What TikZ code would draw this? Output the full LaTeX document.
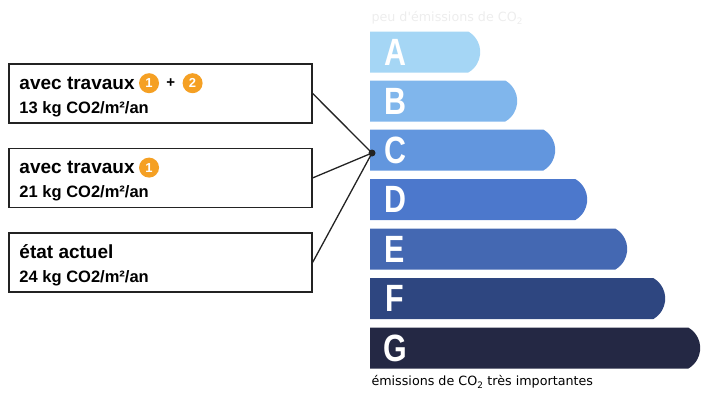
\documentclass[tikz,border=0pt]{standalone}
\usepackage{fontspec}
\setmainfont{Liberation Sans}
\newfontfamily\captionfont{DejaVu Sans}
\usetikzlibrary{shapes.misc,positioning}
\definecolor{classA}{RGB}{165,214,245}
\definecolor{classB}{RGB}{128,182,236}
\definecolor{classC}{RGB}{98,150,222}
\definecolor{classD}{RGB}{76,120,204}
\definecolor{classE}{RGB}{68,104,178}
\definecolor{classF}{RGB}{46,70,128}
\definecolor{classG}{RGB}{36,40,68}
\definecolor{badgeorange}{RGB}{245,160,35}
\definecolor{framegray}{RGB}{35,35,35}

\begin{document}
\begin{tikzpicture}[
    x=1pt, y=-1pt,
    node distance=24pt,
    box/.style={rectangle, draw=framegray, line width=1.4pt, minimum width=303pt, minimum height=59pt},
    title/.style={anchor=base west, inner sep=0pt, font=\fontsize{19}{22}\selectfont\bfseries},
    value/.style={anchor=base west, inner sep=0pt, font=\fontsize{16.5}{19}\selectfont\bfseries},
    badge/.style={circle, fill=badgeorange, text=white, inner sep=0pt, minimum size=20pt, font=\fontsize{13}{13}\selectfont\bfseries},
    bar/.style={rounded rectangle, rounded rectangle west arc=none, rounded rectangle arc length=120, anchor=west, minimum height=41pt, inner sep=0pt},
    letter/.style={text=white, inner sep=0pt, font=\fontsize{38}{38}\selectfont\bfseries},
    link/.style={line width=1.3pt, draw=framegray},
]
    \useasboundingbox (0,0) rectangle (702,392);

    % Scale header
    \node[anchor=west, text=gray!14, font=\captionfont\fontsize{12.7}{15}\selectfont] (lowlabel) at (368,18) {peu d'émissions de CO\textsubscript{2}};

    % Classes
    \node[bar, fill=classA, minimum width=110pt] (barA) at (370,52) {};
    \node[bar, fill=classB, minimum width=147pt] (barB) at (370,101) {};
    \node[bar, fill=classC, minimum width=185pt] (barC) at (370,150) {};
    \node[bar, fill=classD, minimum width=217pt] (barD) at (370,199.5) {};
    \node[bar, fill=classE, minimum width=257pt] (barE) at (370,249) {};
    \node[bar, fill=classF, minimum width=295pt] (barF) at (370,298.5) {};
    \node[bar, fill=classG, minimum width=330pt] (barG) at (370,348) {};

    \node[letter] (letA) at ([xshift=25pt]barA.west) {\scalebox{0.8}[1]{A}};
    \node[letter] (letB) at ([xshift=25pt]barB.west) {\scalebox{0.8}[1]{B}};
    \node[letter] (letC) at ([xshift=25pt]barC.west) {\scalebox{0.8}[1]{C}};
    \node[letter] (letD) at ([xshift=25pt]barD.west) {\scalebox{0.8}[1]{D}};
    \node[letter] (letE) at ([xshift=25pt]barE.west) {\scalebox{0.8}[1]{E}};
    \node[letter] (letF) at ([xshift=25pt]barF.west) {\scalebox{0.8}[1]{F}};
    \node[letter] (letG) at ([xshift=25pt]barG.west) {\scalebox{0.8}[1]{G}};

    % Scale footer
    \node[anchor=west, font=\captionfont\fontsize{12.7}{15}\selectfont] (highlabel) at (368,382) {émissions de CO\textsubscript{2} très importantes};

    % Both works
    \node[box] (bothbox) at (160.5,93.5) {};
    \node[title] (bothtitle) at ([xshift=11pt,yshift=-26pt]bothbox.north west) {avec travaux};
    \node[badge, right=4pt of bothtitle] (bothone) {1};
    \node[right=7pt of bothone, inner sep=0pt, font=\fontsize{15}{15}\selectfont\bfseries] (plus) {+};
    \node[badge, right=7pt of plus] (bothtwo) {2};
    \node[value] (bothvalue) at ([xshift=11pt,yshift=-50pt]bothbox.north west) {13 kg CO2/m²/an};

    % First works
    \node[box, below=of bothbox] (onebox) {};
    \node[title] (onetitle) at ([xshift=11pt,yshift=-26pt]onebox.north west) {avec travaux};
    \node[badge, right=4pt of onetitle] (oneone) {1};
    \node[value] (onevalue) at ([xshift=11pt,yshift=-50pt]onebox.north west) {21 kg CO2/m²/an};

    % Current state
    \node[box, below=of onebox] (nowbox) {};
    \node[title] (nowtitle) at ([xshift=11pt,yshift=-26pt]nowbox.north west) {état actuel};
    \node[value] (nowvalue) at ([xshift=11pt,yshift=-50pt]nowbox.north west) {24 kg CO2/m²/an};

    % Links to class C
    \node[circle, fill=framegray, minimum size=7pt, inner sep=0pt] (dot) at (372,153) {};
    \draw[link] (bothbox.east) -- (dot.center);
    \draw[link] (onebox.east) -- (dot.center);
    \draw[link] (nowbox.east) -- (dot.center);
\end{tikzpicture}
\end{document}
